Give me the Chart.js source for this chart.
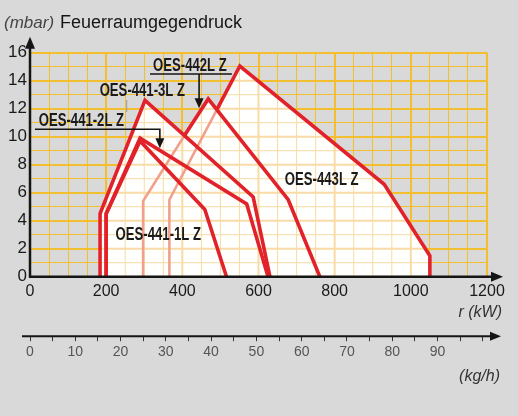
<!DOCTYPE html>
<html>
<head>
<meta charset="utf-8">
<script src="https://cdn.jsdelivr.net/npm/chart.js@4"></script>
<style>
  html, body { margin: 0; padding: 0; background: #d9d9d9; }
  #wrap { width: 518px; height: 416px; }
</style>
</head>
<body>
<div id="wrap"><canvas id="chart" width="518" height="416"></canvas></div>
<script>
// --- Data ---
const burnerNames = ['OES-441-1L Z', 'OES-441-2L Z', 'OES-441-3L Z', 'OES-442L Z', 'OES-443L Z'];

const kw441_1 = [200, 200, 289, 459, 516];
const mbar441_1 = [0, 4.5, 9.7, 4.8, 0];

const kw441_2 = [200, 200, 289, 569, 625];
const mbar441_2 = [0, 4.5, 9.9, 5.2, 0];

const kw441_3 = [184, 184, 302, 586, 630];
const mbar441_3 = [0, 4.5, 12.6, 5.7, 0];

const kw442 = [297, 297, 406, 468, 678, 761];
const mbar442 = [0, 5.4, 10.1, 12.7, 5.5, 0];

const kw443 = [366, 366, 490, 551, 930, 1050, 1050];
const mbar443 = [0, 5.5, 11.9, 15.05, 6.6, 1.5, 0];

const kwTickLabels = [0, 200, 400, 600, 800, 1000, 1200];
const mbarTickLabels = [0, 2, 4, 6, 8, 10, 12, 14, 16];
const kghTickLabels = [0, 10, 20, 30, 40, 50, 60, 70, 80, 90];
const KW_PER_KGH = 11.89;

// --- Styles ---
const RED = '#e2222a';
const PINK = '#f2a08c';
const GRID = '#f3bf2f';
const GRID_PALE = '#f8dba6';
const INK = '#151515';

const curves = [
  { kw: kw441_1, mbar: mbar441_1 },
  { kw: kw441_2, mbar: mbar441_2 },
  { kw: kw441_3, mbar: mbar441_3 },
  { kw: kw442, mbar: mbar442 },
  { kw: kw443, mbar: mbar443 }
];

// where the names sit (kW / mbar)
const labelSpots = [
  { text: 'OES-441-1L Z', kw: 337, mbar: 2.98 },
  { text: 'OES-441-2L Z', kw: 135, mbar: 11.12 },
  { text: 'OES-441-3L Z', kw: 295, mbar: 13.26 },
  { text: 'OES-442L Z', kw: 420, mbar: 15.05 },
  { text: 'OES-443L Z', kw: 766, mbar: 6.9 }
];

// --- Helpers ---
function insidePoly(px, py, poly) {
  let inside = false;
  for (let i = 0, j = poly.length - 1; i < poly.length; j = i++) {
    const [xi, yi] = poly[i], [xj, yj] = poly[j];
    if ((yi > py) !== (yj > py) && px < (xj - xi) * (py - yi) / (yj - yi) + xi) inside = !inside;
  }
  return inside;
}

function edgeDist(px, py, poly) {
  let best = Infinity;
  for (let i = 0, j = poly.length - 1; i < poly.length; j = i++) {
    const [ax, ay] = poly[j], [bx, by] = poly[i];
    const dx = bx - ax, dy = by - ay;
    const len = dx * dx + dy * dy || 1;
    const t = Math.max(0, Math.min(1, ((px - ax) * dx + (py - ay) * dy) / len));
    best = Math.min(best, Math.hypot(px - (ax + t * dx), py - (ay + t * dy)));
  }
  return best;
}

// a segment lying inside a curve drawn above it shows through the white paint
function isCovered(chart, ci, k) {
  const sx = chart.scales.x, sy = chart.scales.y;
  const c = curves[ci];
  const mx = sx.getPixelForValue((c.kw[k] + c.kw[k + 1]) / 2);
  const my = sy.getPixelForValue((c.mbar[k] + c.mbar[k + 1]) / 2);
  for (let j = 0; j < ci; j++) {
    const poly = curves[j].kw.map((v, n) => [sx.getPixelForValue(v), sy.getPixelForValue(curves[j].mbar[n])]);
    if (insidePoly(mx, my, poly) && edgeDist(mx, my, poly) > 3) return true;
  }
  return false;
}

function arrowHead(ctx, x, y, dir, len, half) {
  ctx.beginPath();
  if (dir === 'up') { ctx.moveTo(x, y); ctx.lineTo(x - half, y + len); ctx.lineTo(x + half, y + len); }
  if (dir === 'down') { ctx.moveTo(x, y); ctx.lineTo(x - half, y - len); ctx.lineTo(x + half, y - len); }
  if (dir === 'right') { ctx.moveTo(x, y); ctx.lineTo(x - len, y - half); ctx.lineTo(x - len, y + half); }
  ctx.closePath();
  ctx.fill();
}

const majorKw = v => v % 200 === 0;
const majorMbar = v => v % 2 === 0;

// --- Plugin: white working fields, axes with arrows, names ---
const decor = {
  id: 'decor',
  beforeDatasetsDraw(chart) {
    const { ctx, chartArea: a, scales: { x, y } } = chart;
    ctx.save();
    ctx.beginPath();
    chart.data.datasets.forEach((ds, i) => {
      const pts = chart.getDatasetMeta(i).data;
      pts.forEach((p, n) => n === 0 ? ctx.moveTo(p.x, p.y) : ctx.lineTo(p.x, p.y));
      ctx.closePath();
    });
    ctx.fillStyle = '#fffffd';
    ctx.fill('nonzero');
    ctx.clip('nonzero');
    ctx.strokeStyle = GRID_PALE;
    x.ticks.forEach(t => {
      const px = x.getPixelForValue(t.value);
      ctx.lineWidth = majorKw(t.value) ? 2 : 1;
      ctx.beginPath(); ctx.moveTo(px, a.top); ctx.lineTo(px, a.bottom); ctx.stroke();
    });
    y.ticks.forEach(t => {
      const py = y.getPixelForValue(t.value);
      ctx.lineWidth = majorMbar(t.value) ? 2 : 1;
      ctx.beginPath(); ctx.moveTo(a.left, py); ctx.lineTo(a.right, py); ctx.stroke();
    });
    ctx.restore();
  },
  afterDatasetsDraw(chart) {
    const { ctx, chartArea: a, scales: { x, y, x2 } } = chart;
    const x0 = x.getPixelForValue(0), y0 = y.getPixelForValue(0);
    ctx.save();
    ctx.strokeStyle = INK; ctx.fillStyle = INK;

    // main axes
    ctx.lineWidth = 2.5;
    ctx.beginPath(); ctx.moveTo(x0, y0 + 1); ctx.lineTo(x0, a.top - 8); ctx.stroke();
    arrowHead(ctx, x0, a.top - 16, 'up', 12, 5);
    ctx.beginPath(); ctx.moveTo(x0 - 1, y0); ctx.lineTo(a.right + 8, y0); ctx.stroke();
    arrowHead(ctx, a.right + 16, y0, 'right', 12, 5);

    // kg/h axis
    ctx.lineWidth = 2;
    ctx.beginPath(); ctx.moveTo(x0 - 8, x2.top); ctx.lineTo(a.right + 6, x2.top); ctx.stroke();
    arrowHead(ctx, a.right + 14, x2.top, 'right', 11, 4.5);

    // title and units
    ctx.textBaseline = 'alphabetic';
    ctx.textAlign = 'left';
    ctx.font = 'italic 17px "Liberation Sans", Arial, sans-serif';
    ctx.fillStyle = '#444';
    ctx.fillText('(mbar)', 4, 28);
    ctx.font = '18px "Liberation Sans", Arial, sans-serif';
    ctx.fillStyle = INK;
    ctx.fillText('Feuerraumgegendruck', 60, 28);

    ctx.textAlign = 'right';
    ctx.textBaseline = 'middle';
    ctx.font = 'italic 16px "Liberation Sans", Arial, sans-serif';
    ctx.fillStyle = '#333';
    ctx.fillText('r (kW)', a.right + 15, y0 + 36);
    ctx.fillText('(kg/h)', a.right + 13, x2.top + 40);

    // leader lines and arrows
    ctx.strokeStyle = INK; ctx.fillStyle = INK; ctx.lineWidth = 1.6;
    const X = v => x.getPixelForValue(v), Y = v => y.getPixelForValue(v);
    ctx.beginPath(); ctx.moveTo(X(315), Y(14.48)); ctx.lineTo(X(530), Y(14.48)); ctx.stroke();
    ctx.beginPath(); ctx.moveTo(X(444), Y(14.48)); ctx.lineTo(X(444), Y(12.03) - 8); ctx.stroke();
    arrowHead(ctx, X(444), Y(12.03), 'down', 10, 4.5);

    ctx.beginPath(); ctx.moveTo(X(13), Y(10.53)); ctx.lineTo(X(341), Y(10.53)); ctx.lineTo(X(341), Y(9.17) - 8); ctx.stroke();
    arrowHead(ctx, X(341), Y(9.17), 'down', 10, 4.5);

    ctx.strokeStyle = '#999'; ctx.lineWidth = 1;
    ctx.beginPath(); ctx.moveTo(X(254), Y(12.62)); ctx.lineTo(X(254), Y(11.76)); ctx.stroke();

    // burner names (condensed bold)
    labelSpots.forEach(l => {
      ctx.save();
      ctx.translate(X(l.kw), Y(l.mbar));
      ctx.scale(0.73, 1);
      ctx.font = 'bold 18px "Liberation Sans", Arial, sans-serif';
      ctx.textAlign = 'center'; ctx.textBaseline = 'middle';
      ctx.fillStyle = '#1b1b1b';
      ctx.fillText(l.text, 0, 0);
      ctx.restore();
    });
    ctx.restore();
  }
};

const datasets = curves.map((c, i) => ({
  label: burnerNames[i],
  data: c.kw.map((v, k) => ({ x: v, y: c.mbar[k] })),
  borderColor: RED,
  borderWidth: 3.6,
  borderJoinStyle: 'miter',
  pointRadius: 0,
  fill: false,
  tension: 0,
  segment: {
    borderColor: ctx => isCovered(ctx.chart, i, ctx.p0DataIndex) ? PINK : undefined,
    borderWidth: ctx => isCovered(ctx.chart, i, ctx.p0DataIndex) ? 2.6 : undefined
  }
}));

new Chart(document.getElementById('chart'), {
  type: 'line',
  data: { datasets },
  plugins: [decor],
  options: {
    responsive: false,
    animation: false,
    devicePixelRatio: 1,
    layout: { padding: { top: 52.7, right: 31, bottom: 39.8, left: 0 } },
    plugins: { legend: { display: false }, tooltip: { enabled: false } },
    scales: {
      x: {
        type: 'linear', min: 0, max: 1200,
        border: { display: false },
        grid: { color: GRID, drawTicks: false, lineWidth: ctx => ctx.tick && majorKw(ctx.tick.value) ? 2 : 1 },
        ticks: {
          stepSize: 50, autoSkip: false, maxRotation: 0, padding: 5,
          color: '#1a1a1a', font: { size: 16, family: '"Liberation Sans", Arial, sans-serif' },
          callback: v => kwTickLabels.includes(v) ? String(v) : ''
        },
        afterFit: s => { s.height = 59.5; }
      },
      x2: {
        type: 'linear', position: 'bottom', min: 0, max: 1200 / KW_PER_KGH,
        border: { display: false },
        grid: { drawOnChartArea: false, drawTicks: true, tickLength: 5, tickColor: '#333', tickWidth: 1 },
        ticks: {
          stepSize: 5, autoSkip: false, maxRotation: 0, padding: 3, includeBounds: false,
          color: '#555', font: { size: 14, family: '"Liberation Sans", Arial, sans-serif' },
          callback: v => kghTickLabels.includes(v) ? String(v) : ''
        },
        afterFit: s => { s.height = 40; }
      },
      y: {
        type: 'linear', min: 0, max: 16,
        border: { display: false },
        grid: { color: GRID, drawTicks: false, lineWidth: ctx => ctx.tick && majorMbar(ctx.tick.value) ? 2 : 1 },
        ticks: {
          stepSize: 1, autoSkip: false, padding: 3,
          color: '#1a1a1a', font: { size: 17, family: '"Liberation Sans", Arial, sans-serif' },
          callback: v => mbarTickLabels.includes(v) ? String(v) : ''
        },
        afterFit: s => { s.width = 30; }
      }
    }
  }
});
</script>
</body>
</html>
